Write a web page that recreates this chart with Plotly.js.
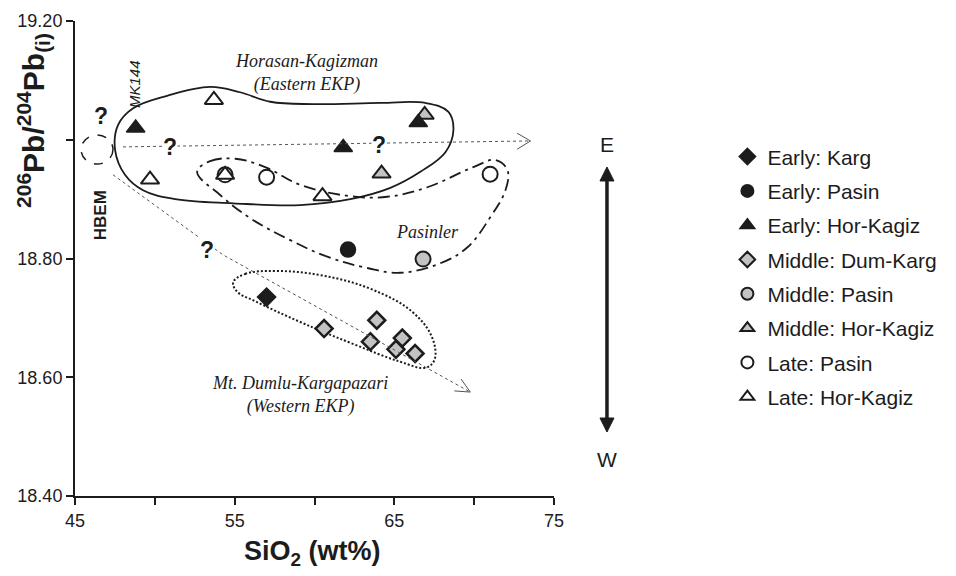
<!DOCTYPE html>
<html>
<head>
<meta charset="utf-8">
<script src="https://cdn.plot.ly/plotly-3.0.1.min.js"></script>
<style>
  html, body { margin: 0; padding: 0; background: #ffffff; }
  #chart { width: 956px; height: 576px; }
</style>
</head>
<body>
<div id="chart"></div>
<script>
// SiO2 (wt%) and initial 206Pb/204Pb for each age / area group
const earlyKargSiO2 = [57.0];
const earlyKargPb = [18.735];
const earlyPasinSiO2 = [62.1];
const earlyPasinPb = [18.815];
const earlyHorSiO2 = [48.8, 61.8, 66.5];
const earlyHorPb = [19.020, 18.987, 19.029];
const midDumSiO2 = [60.6, 63.9, 63.5, 65.5, 65.1, 66.3];
const midDumPb = [18.682, 18.696, 18.660, 18.666, 18.647, 18.640];
const midPasinSiO2 = [66.8];
const midPasinPb = [18.799];
const midHorSiO2 = [64.2, 66.9];
const midHorPb = [18.943, 19.042];
const latePasinSiO2 = [54.4, 57.0, 71.0];
const latePasinPb = [18.941, 18.937, 18.942];
const lateHorSiO2 = [53.7, 49.7, 54.4, 60.5];
const lateHorPb = [19.067, 18.933, 18.941, 18.905];

// axis ticks (labelled majors, unlabelled minors)
const xTickVals = [45, 55, 65, 75];
const xTickText = ['45', '55', '65', '75'];
const xMinorVals = [50, 60, 70];
const yTickVals = [18.4, 18.6, 18.8, 19.2];
const yTickText = ['18.40', '18.60', '18.80', '19.20'];
const yMinorVals = [19.0];

// hand-drawn field boundaries (SiO2, Pb)
const horFieldX = [47.51, 47.70, 48.64, 50.77, 53.46, 55.34, 57.23, 59.92, 64.12, 66.94, 68.39, 68.70, 68.20, 66.63, 64.75, 62.24, 59.11, 54.91, 51.27, 49.26, 48.13, 47.51];
const horFieldY = [18.983, 19.025, 19.053, 19.074, 19.089, 19.080, 19.064, 19.060, 19.062, 19.062, 19.047, 19.016, 18.979, 18.946, 18.919, 18.900, 18.890, 18.893, 18.900, 18.915, 18.941, 18.983];
const pasFieldX = [52.65, 53.46, 55.03, 56.91, 59.11, 62.24, 64.56, 67.07, 69.95, 71.33, 72.08, 71.96, 71.02, 69.58, 67.88, 65.38, 63.31, 60.80, 58.48, 55.97, 54.09, 52.65];
const pasFieldY = [18.946, 18.964, 18.968, 18.954, 18.924, 18.905, 18.904, 18.920, 18.954, 18.966, 18.949, 18.915, 18.870, 18.819, 18.792, 18.776, 18.784, 18.803, 18.831, 18.868, 18.907, 18.946];
const dumFieldX = [54.91, 55.66, 57.54, 60.36, 63.50, 66.13, 67.38, 67.51, 66.94, 65.38, 62.24, 59.11, 56.29, 55.16, 54.91];
const dumFieldY = [18.760, 18.774, 18.779, 18.772, 18.749, 18.710, 18.666, 18.629, 18.616, 18.626, 18.658, 18.693, 18.728, 18.744, 18.760];

const SANS = 'Liberation Sans, Arial, sans-serif';
const SERIF = 'Liberation Serif, Times New Roman, serif';
const INK = '#1c1c1c';
const GREY = '#c3c3c3';

function field(x, y, dash, width) {
  return {
    x: x, y: y, type: 'scatter', mode: 'lines',
    line: { color: INK, width: width, dash: dash, shape: 'spline', smoothing: 1.1 },
    hoverinfo: 'skip', showlegend: false
  };
}

function group(name, x, y, symbol, fill, size, lineW, rank) {
  return {
    name: name, x: x, y: y, type: 'scatter', mode: 'markers',
    legendgroup: name, legendrank: rank, cliponaxis: false,
    marker: { symbol: symbol, color: fill, size: size, line: { color: INK, width: lineW } }
  };
}

const traces = [
  field(horFieldX, horFieldY, 'solid', 1.8),
  field(pasFieldX, pasFieldY, '12px,5px,3px,5px', 1.8),
  field(dumFieldX, dumFieldY, '2px,2px', 2),
  group('Middle: Dum-Karg', midDumSiO2, midDumPb, 'diamond', GREY, 13, 2.5, 4),
  group('Middle: Pasin', midPasinSiO2, midPasinPb, 'circle', GREY, 15, 2, 5),
  group('Middle: Hor-Kagiz', midHorSiO2, midHorPb, 'triangle-up', GREY, 16, 2, 6),
  group('Late: Pasin', latePasinSiO2, latePasinPb, 'circle', '#ffffff', 15, 2, 7),
  group('Late: Hor-Kagiz', lateHorSiO2, lateHorPb, 'triangle-up', '#ffffff', 16, 2, 8),
  group('Early: Karg', earlyKargSiO2, earlyKargPb, 'diamond', INK, 14, 1.5, 1),
  group('Early: Pasin', earlyPasinSiO2, earlyPasinPb, 'circle', INK, 15, 1.5, 2),
  group('Early: Hor-Kagiz', earlyHorSiO2, earlyHorPb, 'triangle-up', INK, 16, 1.5, 3)
];

function note(x, y, text, font, extra) {
  return Object.assign({
    x: x, y: y, xref: 'x', yref: 'y', text: text, showarrow: false,
    xanchor: 'center', yanchor: 'middle', font: font
  }, extra || {});
}

function q(x, y) {
  return note(x, y, '<b>?</b>', { family: SANS, size: 23, color: INK },
    { bgcolor: '#ffffff', borderpad: 0 });
}

const serifFont = { family: SERIF, size: 18, color: INK };

const annotations = [
  q(46.63, 19.040), q(50.96, 18.988), q(64.06, 18.991), q(53.28, 18.814),
  note(59.48, 19.113, '<i>Horasan-Kagizman</i><br><i>(Eastern EKP)</i>', serifFont),
  note(67.07, 18.845, '<i>Pasinler</i>', serifFont),
  note(59.11, 18.570, '<i>Mt. Dumlu-Kargapazari</i><br><i>(Western EKP)</i>', serifFont),
  note(48.76, 19.094, '<i>MK144</i>', { family: SANS, size: 15, color: INK }, { textangle: -90 }),
  note(46.57, 18.873, '<b>HBEM</b>', { family: SANS, size: 17, color: INK }, { textangle: -90 }),
  // axis titles
  { x: -0.0877, y: 0.7916, xref: 'paper', yref: 'paper', xanchor: 'center', yanchor: 'middle',
    textangle: -90, text: '<b><sup>206</sup>Pb/<sup>204</sup>Pb<sub>(i)</sub></b>',
    showarrow: false, font: { family: SANS, size: 30, color: INK } },
  { x: 0.4948, y: -0.12, xref: 'paper', yref: 'paper', xanchor: 'center', yanchor: 'middle',
    text: '<b>SiO<sub>2</sub> (wt%)</b>',
    showarrow: false, font: { family: SANS, size: 27, color: INK } },
  // east-west direction labels
  { x: 1.1106, y: 0.739, xref: 'paper', yref: 'paper', xanchor: 'center', yanchor: 'middle',
    text: 'E', showarrow: false, font: { family: SANS, size: 21, color: INK } },
  { x: 1.1106, y: 0.0758, xref: 'paper', yref: 'paper', xanchor: 'center', yanchor: 'middle',
    text: 'W', showarrow: false, font: { family: SANS, size: 21, color: INK } }
];

const TREND = '#555555';
const shapes = [
  // HBEM end-member
  { type: 'circle', xref: 'x', yref: 'y', x0: 45.38, x1: 47.38, y0: 18.959, y1: 19.008,
    line: { color: INK, width: 1.5, dash: 'dash' } },
  // eastern trend
  { type: 'line', xref: 'x', yref: 'y', x0: 48.01, y0: 18.988, x1: 73.53, y1: 18.998,
    line: { color: TREND, width: 1, dash: 'dot' } },
  { type: 'path', xref: 'x', yref: 'y', path: 'M72.69,19.011 L73.53,18.998 L72.69,18.984',
    line: { color: TREND, width: 1 } },
  // western trend
  { type: 'path', xref: 'x', yref: 'y', path: 'M47.38,18.941 L54.28,18.806 L69.76,18.575',
    line: { color: TREND, width: 1, dash: 'dot' } },
  { type: 'path', xref: 'x', yref: 'y', path: 'M69.18,18.597 L69.76,18.575 L68.76,18.577',
    line: { color: TREND, width: 1 } },
  // east-west double arrow
  { type: 'line', xref: 'paper', yref: 'paper', x0: 1.1106, x1: 1.1106, y0: 0.6650, y1: 0.1620,
    line: { color: INK, width: 3.5 } },
  { type: 'path', xref: 'paper', yref: 'paper', path: 'M1.0960,0.6632 L1.1106,0.6926 L1.1252,0.6632 Z',
    fillcolor: INK, line: { color: INK, width: 1 } },
  { type: 'path', xref: 'paper', yref: 'paper', path: 'M1.0960,0.1642 L1.1106,0.1347 L1.1252,0.1642 Z',
    fillcolor: INK, line: { color: INK, width: 1 } }
];

const layout = {
  width: 956, height: 576,
  margin: { l: 75, r: 402, t: 21, b: 80 },
  paper_bgcolor: '#ffffff', plot_bgcolor: '#ffffff',
  font: { family: SANS, size: 18, color: INK },
  showlegend: true,
  legend: {
    x: 1.362, y: 0.757, xanchor: 'left', yanchor: 'top',
    font: { family: SANS, size: 21, color: INK }, itemsizing: 'constant',
    traceorder: 'grouped', tracegroupgap: 4, bgcolor: 'rgba(0,0,0,0)', borderwidth: 0
  },
  xaxis: {
    range: [45, 75], tickmode: 'array', tickvals: xTickVals, ticktext: xTickText,
    minor: { tickmode: 'array', tickvals: xMinorVals, ticks: 'outside', ticklen: 7, tickwidth: 2, tickcolor: INK, showgrid: false },
    showgrid: false, zeroline: false, showline: true, linecolor: INK, linewidth: 2,
    ticks: 'outside', ticklen: 7, tickwidth: 2, tickcolor: INK,
    tickfont: { family: SANS, size: 18, color: INK }, fixedrange: true
  },
  yaxis: {
    range: [18.4, 19.2], tickmode: 'array', tickvals: yTickVals, ticktext: yTickText,
    minor: { tickmode: 'array', tickvals: yMinorVals, ticks: 'outside', ticklen: 7, tickwidth: 2, tickcolor: INK, showgrid: false },
    showgrid: false, zeroline: false, showline: true, linecolor: INK, linewidth: 2,
    ticks: 'outside', ticklen: 7, tickwidth: 2, tickcolor: INK,
    tickfont: { family: SANS, size: 18, color: INK }, fixedrange: true
  },
  annotations: annotations,
  shapes: shapes
};

Plotly.newPlot('chart', traces, layout, { displayModeBar: false, staticPlot: true });
</script>
</body>
</html>
